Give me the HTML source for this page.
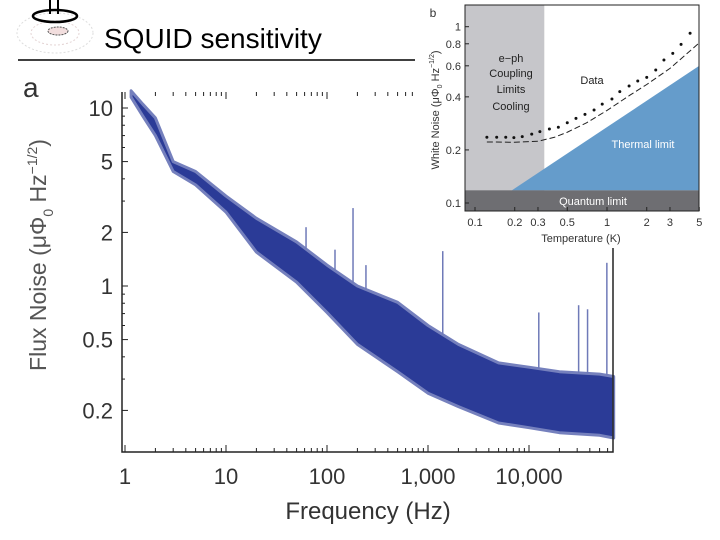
<!DOCTYPE html>
<html><head><meta charset="utf-8"><style>
html,body{margin:0;padding:0;background:#fff;}
svg{display:block;font-family:"Liberation Sans",Arial,sans-serif;}
</style></head><body>
<svg id="s" width="720" height="540" viewBox="0 0 720 540">
<g>
 <ellipse cx="55" cy="33" rx="38" ry="20" fill="none" stroke="#ddd" stroke-dasharray="2,2"/>
 <ellipse cx="55" cy="33" rx="24" ry="12" fill="none" stroke="#e4d4d4" stroke-dasharray="2,2"/>
 <line x1="50" y1="0" x2="50" y2="14" stroke="#000" stroke-width="2"/>
 <line x1="58" y1="0" x2="58" y2="14" stroke="#000" stroke-width="2"/>
 <ellipse cx="55" cy="16" rx="22" ry="6" fill="none" stroke="#000" stroke-width="2.5"/>
 <ellipse cx="58" cy="31" rx="10" ry="4" fill="#f2dede" stroke="#555" stroke-dasharray="2,1"/>
</g>
<text x="104" y="48" font-size="28" fill="#000">SQUID sensitivity</text>
<line x1="18" y1="60" x2="420" y2="60" stroke="#000" stroke-width="1.5"/>
<text x="23" y="97" font-size="28" fill="#333">a</text>
<g id="main"></g>
<text transform="translate(46,255) rotate(-90)" text-anchor="middle" font-size="23" fill="#555">Flux Noise (μΦ<tspan font-size="14" dy="7">0</tspan><tspan dy="-7"> Hz</tspan><tspan font-size="14" dy="-9">−1/2</tspan><tspan dy="9">)</tspan></text>
<text x="368" y="519" text-anchor="middle" font-size="24" fill="#333">Frequency (Hz)</text>
<g id="inset"></g>
</svg>
<script>
// ---- main chart data ----
const freqs = [1.15,1.5,2,3,5,10,20,50,100,200,500,1000,2000,5000,10000,20000,50000,69000];
const upperNoise = [12.5,10.5,8.8,5.0,4.4,3.2,2.4,1.77,1.31,1.0,0.81,0.6,0.47,0.37,0.35,0.33,0.32,0.31];
const lowerNoise = [11.5,9.0,7.0,4.4,3.7,2.6,1.55,1.05,0.71,0.47,0.33,0.25,0.21,0.17,0.16,0.15,0.145,0.14];
const spikeFreqs = [62,120,181,243,1400,12500,31000,38000,59000];
const spikeValues = [2.14,1.6,2.74,1.31,1.57,0.71,0.78,0.74,1.35];
const yTicks = [10,5,2,1,0.5,0.2];
const yTickLabels = ["10","5","2","1","0.5","0.2"];
const xTicks = [1,10,100,1000,10000];
const xTickLabels = ["1","10","100","1,000","10,000"];
// ---- inset data ----
const temps = [0.123,0.146,0.171,0.197,0.228,0.269,0.310,0.366,0.428,0.500,0.582,0.681,0.798,0.920,1.09,1.25,1.47,1.71,2.0,2.34,2.70,3.15,3.64,4.26];
const dataNoise = [0.236,0.236,0.236,0.235,0.238,0.246,0.254,0.263,0.269,0.285,0.302,0.318,0.337,0.364,0.389,0.428,0.461,0.492,0.516,0.568,0.647,0.706,0.794,0.918];
const fitTemps = [0.123,0.2,0.3,0.4,0.5,0.7,1.0,1.5,2.0,3.0,4.0,5.0];
const fitNoise = [0.222,0.221,0.224,0.236,0.252,0.285,0.335,0.41,0.47,0.58,0.7,0.81];
const insetYTicks = [1,0.8,0.6,0.4,0.2,0.1];
const insetYLabels = ["1","0.8","0.6","0.4","0.2","0.1"];
const insetXTicks = [0.1,0.2,0.3,0.5,1,2,3,5];
const insetXLabels = ["0.1","0.2","0.3","0.5","1","2","3","5"];
const quantumLimit = 0.118;
const thermalStart = [0.19,0.118];
const thermalEnd = [5,0.6];
const couplingLimitT = 0.335;

const NS="http://www.w3.org/2000/svg";
function mk(p,tag,attrs){const e=document.createElementNS(NS,tag);for(const k in attrs)e.setAttribute(k,attrs[k]);p.appendChild(e);return e;}
const L=Math.log10;
const X=f=>125+101*L(f), Y=v=>286-178*L(v);
const main=document.getElementById('main');
// band
let pts=[];
for(let i=0;i<freqs.length;i++)pts.push(X(freqs[i]).toFixed(1)+','+Y(upperNoise[i]).toFixed(1));
for(let i=freqs.length-1;i>=0;i--)pts.push(X(freqs[i]).toFixed(1)+','+Y(lowerNoise[i]).toFixed(1));
const band=mk(main,'polygon',{points:pts.join(' '),fill:'#2b3b97',stroke:'#7580bd','stroke-width':'3','stroke-linejoin':'round'});


for(let i=0;i<spikeFreqs.length;i++){
  let j=0;while(j<freqs.length-1&&freqs[j+1]<spikeFreqs[i])j++;
  const t=(L(spikeFreqs[i])-L(freqs[j]))/(L(freqs[j+1])-L(freqs[j]));
  const base=Math.pow(10,L(upperNoise[j])+t*(L(upperNoise[j+1])-L(upperNoise[j])));
  const s=mk(main,'line',{x1:X(spikeFreqs[i]),x2:X(spikeFreqs[i]),y1:Y(base),y2:Y(spikeValues[i]),stroke:'#6f7ab8','stroke-width':'1.5'});
  
  
}
// frame
const fr=mk(main,'path',{d:'M122,92 L122,452 L613,452 L613,92 L415,92',fill:'none',stroke:'#222','stroke-width':'1.5'});


yTicks.forEach((v,i)=>{
  mk(main,'line',{x1:122,x2:128,y1:Y(v),y2:Y(v),stroke:'#222'});
  const t=mk(main,'text',{x:113,y:Y(v)+8,'text-anchor':'end','font-size':'22',fill:'#333'});t.textContent=yTickLabels[i];
  
  
});
[3,4,6,7,8,9].forEach(m=>[0.1,1].forEach(d=>{const v=m*d;if(Y(v)<452)mk(main,'line',{x1:122,x2:125,y1:Y(v),y2:Y(v),stroke:'#222'});}));
xTicks.forEach((f,i)=>{
  mk(main,'line',{x1:X(f),x2:X(f),y1:452,y2:445,stroke:'#222'});
  mk(main,'line',{x1:X(f),x2:X(f),y1:92,y2:99,stroke:'#222'});
  const t=mk(main,'text',{x:X(f),y:484,'text-anchor':'middle','font-size':'22',fill:'#333'});t.textContent=xTickLabels[i];
  
  
  for(let m=2;m<10;m++){const x=X(f*m);if(x<613){mk(main,'line',{x1:x,x2:x,y1:452,y2:448,stroke:'#222'});mk(main,'line',{x1:x,x2:x,y1:92,y2:96,stroke:'#222'});}}
});
// ---- inset ----
const ins=document.getElementById('inset');
const IX=t=>475+132*(L(t)+1), IY=v=>203-176.3*(L(v)+1);
const bg=mk(ins,'rect',{x:415,y:0,width:305,height:248,fill:'#fff'});


const gr=mk(ins,'rect',{x:465,y:5,width:IX(couplingLimitT)-465,height:206,fill:'#c6c6ca'});


const tri=mk(ins,'polygon',{points:`${IX(thermalStart[0])},${IY(thermalStart[1])} ${IX(thermalEnd[0])},${IY(thermalEnd[1])} ${IX(thermalEnd[0])},${IY(quantumLimit)}`,fill:'#659ccb'});


const q=mk(ins,'rect',{x:465,y:IY(quantumLimit),width:234,height:211-IY(quantumLimit),fill:'#6e6e72'});


const fit=mk(ins,'polyline',{points:fitTemps.map((t,i)=>IX(t)+','+IY(fitNoise[i])).join(' '),fill:'none',stroke:'#222','stroke-width':'1','stroke-dasharray':'6,3'});


temps.forEach((t,i)=>{const c=mk(ins,'circle',{cx:IX(t),cy:IY(dataNoise[i]),r:1.5,fill:'#111'});
  
  });
const ifr=mk(ins,'rect',{x:465,y:5,width:234,height:206,fill:'none',stroke:'#222','stroke-width':'1'});


insetYTicks.forEach((v,i)=>{
  mk(ins,'line',{x1:465,x2:469,y1:IY(v),y2:IY(v),stroke:'#222'});
  const t=mk(ins,'text',{x:461,y:IY(v)+4,'text-anchor':'end','font-size':'11',fill:'#333'});t.textContent=insetYLabels[i];
  
  
});
insetXTicks.forEach((v,i)=>{
  mk(ins,'line',{x1:IX(v),x2:IX(v),y1:211,y2:207,stroke:'#222'});
  const t=mk(ins,'text',{x:IX(v),y:226,'text-anchor':'middle','font-size':'11',fill:'#333'});t.textContent=insetXLabels[i];
  
  
});
function txt(x,y,s,size,fill,name){const t=mk(ins,'text',{x:x,y:y,'text-anchor':'middle','font-size':size,fill:fill});t.textContent=s;
  
  return t;}
txt(433,17,'b',12,'#333','panel-b-label');
txt(511,62,'e−ph',11,'#222','eph-label');
txt(511,77,'Coupling',11,'#222','eph-label');
txt(511,93,'Limits',11,'#222','eph-label');
txt(511,110,'Cooling',11,'#222','eph-label');
txt(592,84,'Data',11,'#222','data-label');
txt(643,148,'Thermal limit',11,'#fff','thermal-limit-label');
txt(593,205,'Quantum limit',11,'#fff','quantum-limit-label');
txt(581,242,'Temperature (K)',11,'#333','inset-x-axis-title');
const yt=mk(ins,'text',{transform:'translate(439,110) rotate(-90)','text-anchor':'middle','font-size':'11',fill:'#333'});
yt.innerHTML='White Noise (μΦ<tspan font-size="7" dy="3">0</tspan><tspan dy="-3"> Hz</tspan><tspan font-size="7" dy="-5">−1/2</tspan><tspan dy="5">)</tspan>';


</script>
</body></html>
